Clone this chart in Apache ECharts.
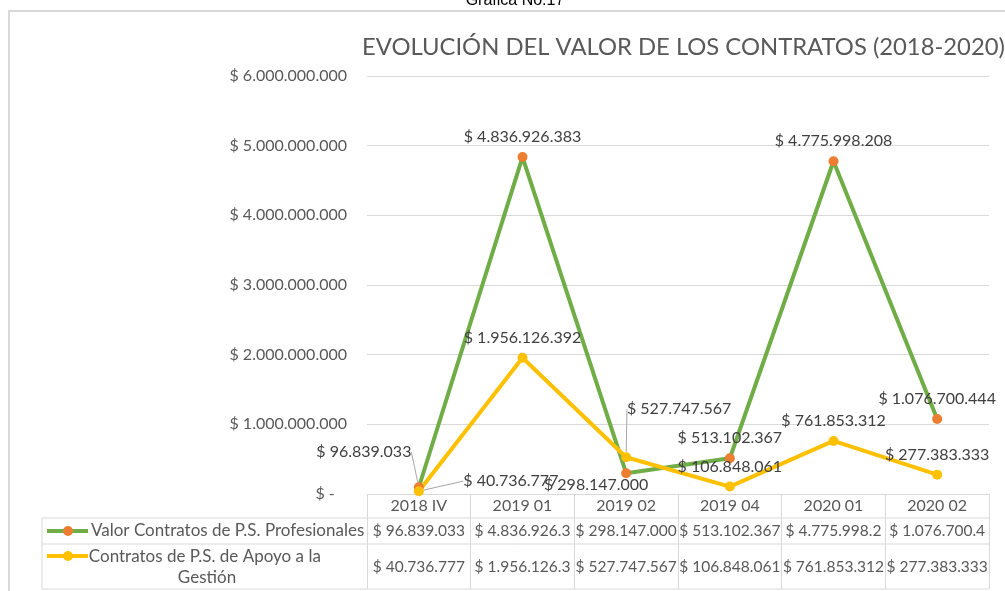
<!DOCTYPE html>
<html lang="es">
<head>
<meta charset="utf-8">
<title>Gráfica No.17</title>
<script src="https://cdn.jsdelivr.net/npm/echarts@6/dist/echarts.min.js"></script>
<style>
  html, body { margin: 0; padding: 0; background: #fff; }
  #main { width: 1005px; height: 591px; }
</style>
</head>
<body>
<div id="main"></div>
<script>
// datos
const categorias = ['2018 IV', '2019 01', '2019 02', '2019 04', '2020 01', '2020 02'];
const profesionales = [96839033, 4836926383, 298147000, 513102367, 4775998208, 1076700444];
const apoyo = [40736777, 1956126392, 527747567, 106848061, 761853312, 277383333];
const nombres = ['Valor Contratos de P.S. Profesionales', 'Contratos de P.S. de Apoyo a la Gestión'];
const ejeY = { min: 0, max: 6000000000, paso: 1000000000 };

const verde = '#70AD47', naranja = '#ED7D31', amarillo = '#FFC000';
const gris = '#595959', lineaGris = '#d9d9d9';
const fuente = 'Lato';

function pesos(v) {
  if (v === 0) return '$ -   ';
  return '$ ' + String(Math.round(v)).replace(/\B(?=(\d{3})+(?!\d))/g, '.');
}

// desplazamientos de etiquetas que Excel movió a mano
const movidas = [
  { 0: [-55, -15], 2: [-30, 32] },
  { 0: [92, 10], 2: [53, -28] }
];
const conGuia = [{ 0: true }, { 0: true, 2: true }];

function datos(valores, s) {
  return valores.map((v, i) => conGuia[s][i]
    ? { value: v, labelLine: { show: true, lineStyle: { color: '#a6a6a6', width: 1 } } }
    : v);
}

const chart = echarts.init(document.getElementById('main'));

const etiqueta = {
  show: true, position: 'top', distance: 7,
  color: '#404040', fontFamily: fuente, fontSize: 16,
  formatter: p => pesos(p.value)
};

chart.setOption({
  animation: false,
  title: {
    text: 'EVOLUCIÓN DEL VALOR DE LOS CONTRATOS (2018-2020)',
    left: 362, top: 35, padding: 0,
    textStyle: { color: gris, fontFamily: fuente, fontSize: 23.8, fontWeight: 'normal' }
  },
  grid: { left: 367, right: 16, top: 76, bottom: 97 },
  xAxis: {
    type: 'category',
    data: categorias,
    axisLine: { lineStyle: { color: lineaGris, width: 1 } },
    axisTick: { show: true, interval: 0, length: 95, lineStyle: { color: lineaGris } },
    axisLabel: { color: gris, fontFamily: fuente, fontSize: 16, margin: 4 }
  },
  yAxis: {
    type: 'value',
    min: ejeY.min, max: ejeY.max, interval: ejeY.paso,
    axisLine: { show: false },
    axisTick: { show: false },
    splitLine: { lineStyle: { color: lineaGris, width: 1 } },
    axisLabel: { color: gris, fontFamily: fuente, fontSize: 16, margin: 20, formatter: pesos }
  },
  series: [
    {
      name: nombres[0], type: 'line', data: datos(profesionales, 0),
      symbol: 'circle', symbolSize: 10,
      lineStyle: { color: verde, width: 4 },
      itemStyle: { color: naranja },
      label: etiqueta,
      labelLine: { show: false },
      labelLayout: p => {
        const m = movidas[0][p.dataIndex];
        return m ? { dx: m[0], dy: m[1] } : {};
      }
    },
    {
      name: nombres[1], type: 'line', data: datos(apoyo, 1),
      symbol: 'circle', symbolSize: 10,
      lineStyle: { color: amarillo, width: 4 },
      itemStyle: { color: amarillo },
      label: etiqueta,
      labelLine: { show: false },
      labelLayout: p => {
        const m = movidas[1][p.dataIndex];
        return m ? { dx: m[0], dy: m[1] } : {};
      }
    }
  ]
});

// tabla de datos bajo el eje
const xs = categorias.map((c, i) => chart.convertToPixel({ xAxisIndex: 0 }, i));
const ancho = xs[1] - xs[0];
const derecha = xs[xs.length - 1] + ancho / 2;
const filas = [531, 567];
const graficos = [];

graficos.push({
  type: 'rect', silent: true,
  shape: { x: 9, y: 11, width: 1010, height: 600 },
  style: { fill: 'none', stroke: lineaGris, lineWidth: 2 }
});
graficos.push({
  type: 'text', silent: true, x: 515, y: 9,
  style: { text: 'Gráfica No.17', fill: '#000', font: '16px "Liberation Sans"', textAlign: 'center', textVerticalAlign: 'bottom' }
});
[518, 544, 589].forEach(y => graficos.push({
  type: 'line', silent: true,
  shape: { x1: 42, y1: y, x2: derecha, y2: y },
  style: { stroke: lineaGris, lineWidth: 1 }
}));
graficos.push({
  type: 'line', silent: true,
  shape: { x1: 42, y1: 518, x2: 42, y2: 589 },
  style: { stroke: lineaGris, lineWidth: 1 }
});

[[profesionales, verde, naranja, 531], [apoyo, amarillo, amarillo, 556]].forEach(([vals, cl, cm, yi], s) => {
  graficos.push({
    type: 'line', silent: true,
    shape: { x1: 47, y1: yi, x2: 88, y2: yi },
    style: { stroke: cl, lineWidth: 4 }
  });
  graficos.push({
    type: 'circle', silent: true,
    shape: { cx: 68, cy: yi, r: 5 },
    style: { fill: cm }
  });
  vals.forEach((v, i) => graficos.push({
    type: 'text', silent: true, x: xs[i], y: filas[s],
    style: {
      text: pesos(v), fill: gris, font: '15.5px ' + fuente,
      textAlign: 'center', textVerticalAlign: 'middle',
      width: ancho, overflow: 'truncate', ellipsis: ''
    }
  }));
});
graficos.push({
  type: 'text', silent: true, x: 91, y: 531,
  style: { text: nombres[0], fill: gris, font: '17px ' + fuente, textAlign: 'left', textVerticalAlign: 'middle' }
});
graficos.push({
  type: 'text', silent: true, x: 207, y: 567,
  style: {
    text: nombres[1], fill: gris, font: '17px ' + fuente, lineHeight: 21,
    textAlign: 'center', textVerticalAlign: 'middle', width: 268, overflow: 'break'
  }
});

chart.setOption({ graphic: graficos });
</script>
</body>
</html>
